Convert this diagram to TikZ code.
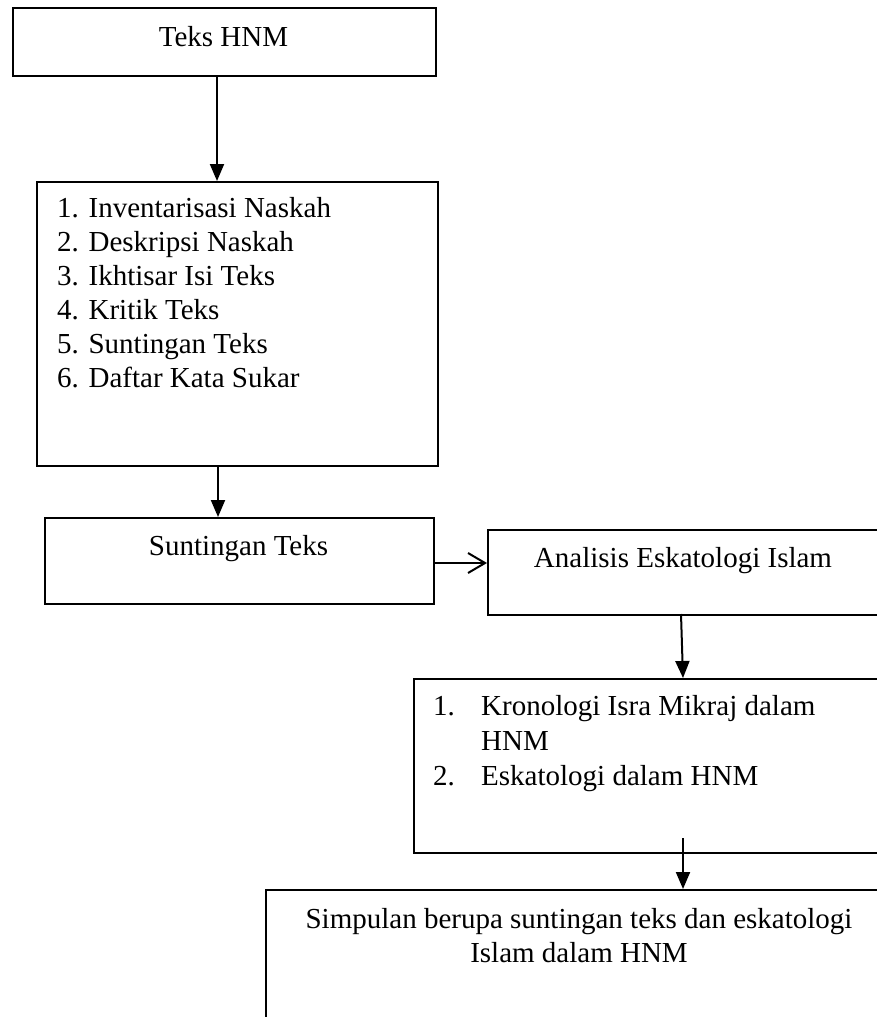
\documentclass[tikz,border=0pt]{standalone}
\usepackage{fontspec}
\setmainfont{Liberation Serif}
\usetikzlibrary{arrows.meta}
\tikzset{
  box/.style={draw=black, line width=1.5pt, rectangle, inner sep=0pt, anchor=north west},
  txt/.style={inner sep=0pt, font=\fontsize{29}{34}\selectfont},
  arr/.style={line width=2pt, -{Triangle[width=14pt,length=17pt]}},
  openarr/.style={line width=2pt, -{Straight Barb[length=17pt,width=20pt,line width=2pt]}}
}
\begin{document}
\begin{tikzpicture}[x=1pt,y=-1pt]
\useasboundingbox (0,0) rectangle (877,1017);
\clip (0,0) rectangle (877,1017);
% boxes
\node[box, minimum width=423pt, minimum height=68pt] (b1) at (12,7) {};
\node[box, minimum width=401pt, minimum height=284pt] (b2) at (36,181) {};
\node[box, minimum width=389pt, minimum height=86pt] (b3) at (44,517) {};
\node[box, minimum width=405pt, minimum height=85pt] (b4) at (487,529) {};
\node[box, minimum width=490pt, minimum height=174pt] (b5) at (413,678) {};
\node[box, minimum width=640pt, minimum height=160pt] (b6) at (265,889) {};
% texts
\node[txt, anchor=base] (t1) at (223.5,46) {Teks HNM};
\node[txt, anchor=base west] (t21) at (57,217) {1. Inventarisasi Naskah};
\node[txt, anchor=base west] (t22) at (57,251) {2. Deskripsi Naskah};
\node[txt, anchor=base west] (t23) at (57,285) {3. Ikhtisar Isi Teks};
\node[txt, anchor=base west] (t24) at (57,319) {4. Kritik Teks};
\node[txt, anchor=base west] (t25) at (57,353) {5. Suntingan Teks};
\node[txt, anchor=base west] (t26) at (57,387) {6. Daftar Kata Sukar};
\node[txt, anchor=base] (t3) at (238.5,555) {Suntingan Teks};
\node[txt, anchor=base] (t4) at (683,567) {Analisis Eskatologi Islam};
\node[txt, anchor=base west] (n51) at (433,715) {1.};
\node[txt, anchor=base west] (t51) at (481,715) {Kronologi Isra Mikraj dalam};
\node[txt, anchor=base west] (t52) at (481,750) {HNM};
\node[txt, anchor=base west] (n53) at (433,785) {2.};
\node[txt, anchor=base west] (t53) at (481,785) {Eskatologi dalam HNM};
\node[txt, anchor=base] (t61) at (579,928) {Simpulan berupa suntingan teks dan eskatologi};
\node[txt, anchor=base] (t62) at (579,962) {Islam dalam HNM};
% connector guides
\coordinate (c1) at (217,0);
\coordinate (c2) at (218,0);
\coordinate (c3) at (0,563);
\coordinate (c4t) at (681,614);
\coordinate (c4b) at (683,678);
\coordinate (c5t) at (683,838);
\coordinate (c5b) at (683,0);
% connectors
\draw[arr] (b1.south -| c1) -- (b2.north -| c1);
\draw[arr] (b2.south -| c2) -- (b3.north -| c2);
\draw[openarr] (b3.east |- c3) -- (b4.west |- c3);
\draw[arr] (c4t) -- (c4b);
\draw[arr] (c5t) -- (b6.north -| c5b);
\end{tikzpicture}
\end{document}
